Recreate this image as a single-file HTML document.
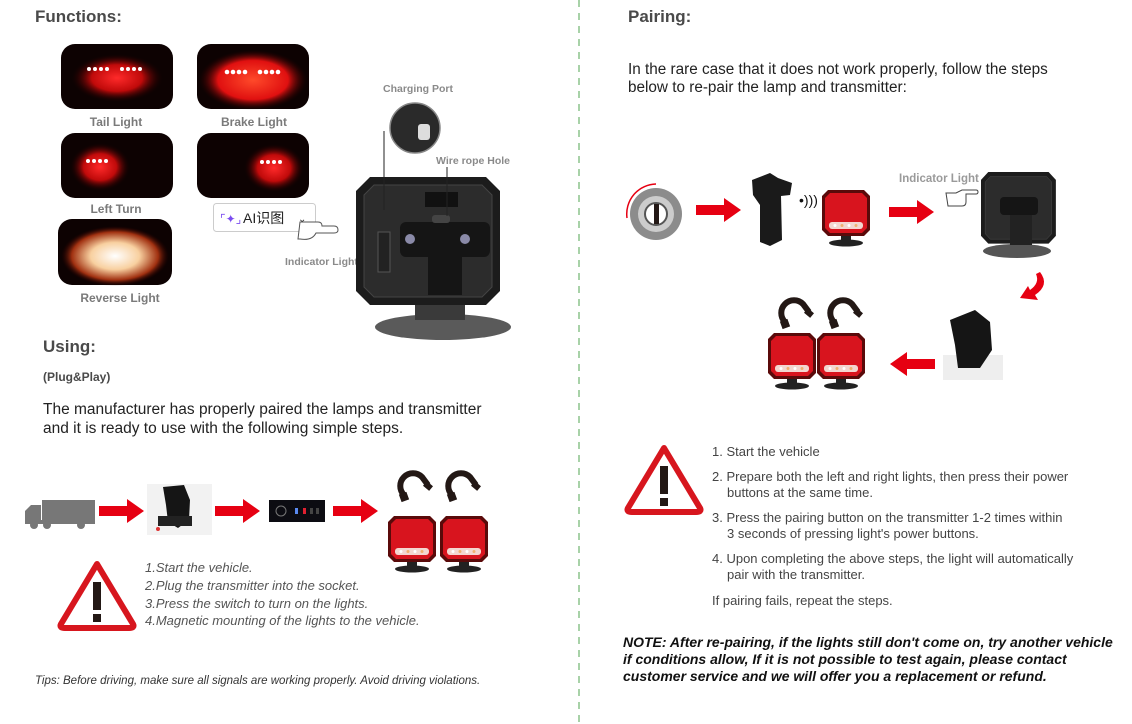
<!DOCTYPE html>
<html><head><meta charset="utf-8"><style>
html,body{margin:0;padding:0;background:#fff}
svg{display:block}
text{font-family:"Liberation Sans","Noto Sans CJK SC",sans-serif}
</style></head><body>
<svg width="1132" height="724" viewBox="0 0 1132 724" xmlns="http://www.w3.org/2000/svg">
<defs>
<radialGradient id="rg" cx="50%" cy="50%" r="50%"><stop offset="0" stop-color="#ff2a2a"/><stop offset="0.55" stop-color="#c00a0a"/><stop offset="1" stop-color="#1a0000" stop-opacity="0"/></radialGradient>
<radialGradient id="rgb" cx="50%" cy="50%" r="50%"><stop offset="0" stop-color="#ff4a2a"/><stop offset="0.65" stop-color="#e01010"/><stop offset="1" stop-color="#300000" stop-opacity="0"/></radialGradient>
<radialGradient id="rw" cx="50%" cy="50%" r="50%"><stop offset="0" stop-color="#ffffff"/><stop offset="0.45" stop-color="#f8d0a0"/><stop offset="0.8" stop-color="#a03010"/><stop offset="1" stop-color="#300000" stop-opacity="0"/></radialGradient>
<g id="arR"><polygon points="0,7 28,7 28,0 45,12 28,24 28,17 0,17" fill="#e60012"/></g>
<g id="lamp">
<path d="M6,0 H42 L48,6 V40 L42,46 H6 L0,40 V6 Z" fill="#5a0a0a"/>
<path d="M8,3 H40 L45,8 V38 L40,43 H8 L3,38 V8 Z" fill="#d8141e"/>
<rect x="7" y="32" width="34" height="7" rx="3" fill="#f3d6d0"/>
<circle cx="13" cy="35.5" r="1.5" fill="#fff"/><circle cx="20" cy="35.5" r="1.5" fill="#f0b070"/><circle cx="27" cy="35.5" r="1.5" fill="#fff"/><circle cx="34" cy="35.5" r="1.5" fill="#f0b070"/>
<rect x="19" y="46" width="10" height="5" fill="#222"/>
<ellipse cx="24" cy="53" rx="17" ry="3.5" fill="#222"/>
</g>
<g id="mag"><path d="M6,24 A11,11 0 0 1 24,6 L30,14" fill="none" stroke="#231815" stroke-width="6"/><rect x="2" y="22" width="8" height="8" fill="#231815" transform="rotate(-20 6 26)"/><rect x="26" y="12" width="8" height="6" fill="#231815" transform="rotate(40 30 15)"/></g>
<g id="warn"><path d="M38,4 L74,64 Q76,68 70,68 H6 Q0,68 2,64 Z" fill="#fff" stroke="#d7161e" stroke-width="6" stroke-linejoin="round"/><rect x="34" y="22" width="8" height="28" fill="#231815"/><rect x="34" y="54" width="8" height="8" fill="#231815"/></g>
<g id="back">
<path d="M14,0 H130 L144,14 V114 L130,128 H14 L0,114 V14 Z" fill="#1c1c1c"/>
<path d="M18,8 H126 L136,18 V110 L126,120 H18 L8,110 V18 Z" fill="#2c2c2c" stroke="#444"/>
</g>
</defs>

<line x1="579" y1="0" x2="579" y2="724" stroke="#8bc38b" stroke-width="1.5" stroke-dasharray="7,6"/>

<text x="35" y="22" font-size="17" font-weight="bold" fill="#4a4a4a">Functions:</text>

<rect x="61" y="44" width="112" height="65" rx="14" fill="#0d0202"/>
<ellipse cx="117" cy="78" rx="46" ry="24" fill="url(#rg)"/>
<rect x="197" y="44" width="112" height="65" rx="14" fill="#0d0202"/>
<ellipse cx="253" cy="80" rx="54" ry="30" fill="url(#rgb)"/>
<rect x="61" y="133" width="112" height="65" rx="14" fill="#0d0202"/>
<ellipse cx="100" cy="167" rx="30" ry="24" fill="url(#rg)"/>
<rect x="197" y="133" width="112" height="65" rx="14" fill="#0d0202"/>
<ellipse cx="274" cy="168" rx="30" ry="24" fill="url(#rg)"/>
<rect x="58" y="219" width="114" height="66" rx="14" fill="#0d0202"/>
<ellipse cx="115" cy="256" rx="54" ry="30" fill="url(#rw)"/>
<g fill="#fff"><circle cx="89" cy="69" r="2"/><circle cx="95" cy="69" r="2"/><circle cx="101" cy="69" r="2"/><circle cx="107" cy="69" r="2"/><circle cx="122" cy="69" r="2"/><circle cx="128" cy="69" r="2"/><circle cx="134" cy="69" r="2"/><circle cx="140" cy="69" r="2"/>
<circle cx="227" cy="72" r="2.3"/><circle cx="233" cy="72" r="2.3"/><circle cx="239" cy="72" r="2.3"/><circle cx="245" cy="72" r="2.3"/><circle cx="260" cy="72" r="2.3"/><circle cx="266" cy="72" r="2.3"/><circle cx="272" cy="72" r="2.3"/><circle cx="278" cy="72" r="2.3"/>
<circle cx="88" cy="161" r="2"/><circle cx="94" cy="161" r="2"/><circle cx="100" cy="161" r="2"/><circle cx="106" cy="161" r="2"/>
<circle cx="262" cy="162" r="2"/><circle cx="268" cy="162" r="2"/><circle cx="274" cy="162" r="2"/><circle cx="280" cy="162" r="2"/></g>
<g font-size="12" font-weight="bold" fill="#7a7a7a" text-anchor="middle">
<text x="116" y="126">Tail Light</text><text x="254" y="126">Brake Light</text>
<text x="116" y="213">Left Turn</text><text x="120" y="302">Reverse Light</text></g>

<rect x="213.5" y="203.5" width="102" height="28" rx="3" fill="#fff" stroke="#ccc"/>
<text x="220" y="223" font-size="12" fill="#7b4cf0">⌜✦⌟</text>
<text x="243" y="223" font-size="14" fill="#222">AI识图</text>
<text x="298" y="222" font-size="10" fill="#333">⌄</text>
<path d="M300,222 h18 q4,0 4,4 h12 q4,0 4,4 q0,3 -4,3 h-18 q-4,8 -16,6 h-2 z" fill="#fff" stroke="#555" stroke-width="1"/>
<text x="285" y="265" font-size="10.5" font-weight="bold" fill="#8a8a8a">Indicator Light</text>

<ellipse cx="443" cy="327" rx="68" ry="13" fill="#5a5a5a"/>
<rect x="415" y="290" width="50" height="30" fill="#3a3a3a"/>
<use href="#back" x="356" y="177"/>
<rect x="400" y="222" width="90" height="35" rx="6" fill="#151515"/>
<rect x="428" y="250" width="34" height="45" fill="#151515"/>
<circle cx="410" cy="239" r="5" fill="#8a8aa8"/><circle cx="465" cy="239" r="5" fill="#8a8aa8"/>
<rect x="378" y="232" width="12" height="40" fill="#222" stroke="#555"/>
<rect x="425" y="192" width="33" height="15" fill="#111"/>
<rect x="432" y="215" width="18" height="8" rx="3" fill="#444"/>
<line x1="384" y1="131" x2="384" y2="210" stroke="#222"/>
<line x1="447" y1="167" x2="447" y2="216" stroke="#222"/>
<circle cx="415" cy="128" r="25" fill="#2a2a2a" stroke="#888" stroke-width="1.5"/>
<rect x="418" y="124" width="12" height="16" rx="3" fill="#ddd"/>
<text x="383" y="92" font-size="10.5" font-weight="bold" fill="#8a8a8a">Charging Port</text>
<text x="436" y="164" font-size="10.5" font-weight="bold" fill="#8a8a8a">Wire rope Hole</text>

<text x="43" y="352" font-size="17" font-weight="bold" fill="#4a4a4a">Using:</text>
<text x="43" y="381" font-size="12" font-weight="bold" fill="#4a4a4a">(Plug&amp;Play)</text>
<text x="43" y="414" font-size="15.5" fill="#222">The manufacturer has properly paired the lamps and transmitter</text>
<text x="43" y="433" font-size="15.5" fill="#222">and it is ready to use with the following simple steps.</text>

<rect x="42" y="500" width="53" height="22" fill="#777"/>
<path d="M25,522 V511 L31,505 H41 V522 Z" fill="#777"/>
<rect x="25" y="520" width="70" height="4" fill="#777"/>
<circle cx="34" cy="525" r="4" fill="#777"/><circle cx="47" cy="525" r="4" fill="#777"/><circle cx="81" cy="525" r="4" fill="#777"/>
<use href="#arR" x="99" y="499"/>
<rect x="147" y="484" width="65" height="51" fill="#f2f2f2"/>
<path d="M163,487 L184,485 L190,500 L189,520 L178,528 L168,522 L166,505 Z" fill="#151515"/>
<rect x="158" y="516" width="34" height="10" fill="#222"/>
<circle cx="158" cy="529" r="2" fill="#d33"/>
<use href="#arR" x="215" y="499"/>
<rect x="269" y="500" width="56" height="22" fill="#0c0c12"/>
<circle cx="281" cy="511" r="5" fill="none" stroke="#777"/>
<rect x="295" y="508" width="3" height="6" fill="#5a8af0"/><rect x="303" y="508" width="3" height="6" fill="#e02030"/><rect x="310" y="508" width="3" height="6" fill="#444"/><rect x="316" y="508" width="3" height="6" fill="#444"/>
<use href="#arR" x="333" y="499"/>
<use href="#mag" x="398" y="471"/><use href="#mag" x="446" y="471"/>
<use href="#lamp" x="388" y="516"/><use href="#lamp" x="440" y="516"/>

<use href="#warn" x="59" y="560"/>
<g font-size="13" font-style="italic" fill="#555">
<text x="145" y="572">1.Start the vehicle.</text>
<text x="145" y="590">2.Plug the transmitter into the socket.</text>
<text x="145" y="608">3.Press the switch to turn on the lights.</text>
<text x="145" y="625">4.Magnetic mounting of the lights to the vehicle.</text></g>
<text x="35" y="684" font-size="11.5" font-style="italic" fill="#333">Tips: Before driving, make sure all signals are working properly. Avoid driving violations.</text>

<text x="628" y="22" font-size="17" font-weight="bold" fill="#4a4a4a">Pairing:</text>
<text x="628" y="74" font-size="15.3" fill="#222">In the rare case that it does not work properly, follow the steps</text>
<text x="628" y="92" font-size="15.3" fill="#222">below to re-pair the lamp and transmitter:</text>

<circle cx="656" cy="214" r="26" fill="#8c8c8c"/>
<circle cx="656" cy="214" r="18" fill="#ccc"/>
<circle cx="656" cy="214" r="11" fill="#fff" stroke="#555" stroke-width="2"/>
<rect x="654" y="204" width="5" height="20" fill="#231815"/>
<path d="M627,218 A30,30 0 0 1 656,184" fill="none" stroke="#e60012" stroke-width="1.5"/>
<use href="#arR" x="696" y="198"/>
<path d="M752,180 L770,173 L778,178 L792,183 L790,195 L781,196 L782,240 L770,246 L760,242 L760,205 L753,195 Z" fill="#1a1a1a"/>
<text x="799" y="205" font-size="14" fill="#111">•)))</text>
<use href="#lamp" x="822" y="190"/>
<use href="#arR" x="889" y="200"/>
<text x="899" y="182" font-size="11.5" font-weight="bold" fill="#9a9a9a">Indicator Light</text>
<path d="M946,193 h10 l6,-3 h14 q2,0 2,2 q0,2 -2,2 h-10 v8 q0,4 -4,4 h-14 z" fill="#fff" stroke="#444"/>
<ellipse cx="1017" cy="251" rx="34" ry="7" fill="#555"/>
<g transform="translate(981,172) scale(0.52,0.56)"><use href="#back"/></g>
<rect x="1000" y="197" width="38" height="18" rx="4" fill="#151515"/>
<rect x="1010" y="215" width="22" height="30" fill="#222"/>
<path d="M1040,272 Q1050,285 1035,295 L1038,300 L1020,298 L1028,286 L1030,290 Q1040,283 1036,274 Z" fill="#e60012"/>
<rect x="943" y="355" width="60" height="25" fill="#eee"/>
<path d="M950,320 L975,310 L990,322 L992,350 L980,368 L958,368 L955,345 Z" fill="#151515"/>
<g transform="translate(935,352) scale(-1,1)"><use href="#arR"/></g>
<use href="#mag" x="779" y="298"/><use href="#mag" x="828" y="298"/>
<use href="#lamp" x="768" y="333"/><use href="#lamp" x="817" y="333"/>

<use href="#warn" x="626" y="444"/>
<g font-size="13" fill="#444">
<text x="712" y="456">1. Start the vehicle</text>
<text x="712" y="481">2. Prepare both the left and right lights, then press their power</text>
<text x="727" y="497">buttons at the same time.</text>
<text x="712" y="522">3. Press the pairing button on the transmitter 1-2 times within</text>
<text x="727" y="538">3 seconds of pressing light's power buttons.</text>
<text x="712" y="563">4. Upon completing the above steps, the light will automatically</text>
<text x="727" y="579">pair with the transmitter.</text>
<text x="712" y="605">If pairing fails, repeat the steps.</text></g>
<g font-size="14" font-weight="bold" font-style="italic" fill="#111">
<text x="623" y="647">NOTE: After re-pairing, if the lights still don't come on, try another vehicle</text>
<text x="623" y="664">if conditions allow, If it is not possible to test again, please contact</text>
<text x="623" y="681">customer service and we will offer you a replacement or refund.</text></g>
</svg>
</body></html>
